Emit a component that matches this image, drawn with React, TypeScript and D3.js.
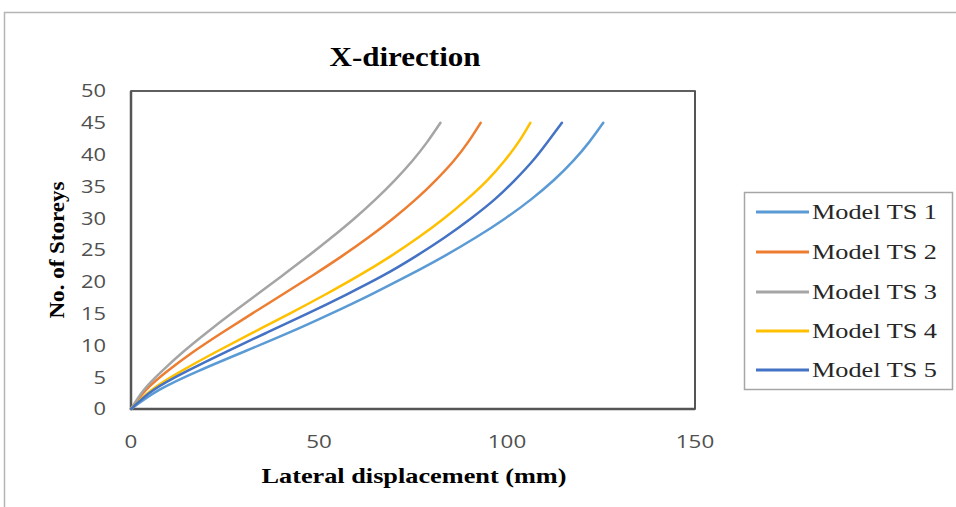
import React from "react";
import * as d3 from "d3";

const storeys = [0, 3, 6, 9, 12, 15, 18, 21, 24, 27, 30, 33, 36, 39, 42, 45];
const ts1 = [0, 7.5, 18, 30, 42, 53.2, 63.8, 73.8, 83.2, 91.8, 99.6, 106.5, 112.5, 117.6, 121.9, 125.6];
const ts2 = [0, 4.0, 9.8, 16.6, 24.2, 32.2, 40.3, 48.3, 56.0, 63.2, 69.8, 75.8, 81.1, 85.8, 89.7, 93.0];
const ts3 = [0, 3.4, 8.3, 13.9, 20.1, 26.7, 33.5, 40.3, 47.0, 53.4, 59.5, 65.1, 70.2, 74.8, 78.8, 82.3];
const ts4 = [0, 5.5, 13.5, 22.7, 32.4, 42.2, 51.7, 60.7, 69.0, 76.5, 83.3, 89.4, 94.8, 99.3, 103.1, 106.2];
const ts5 = [0, 6.0, 15.0, 25.3, 36.1, 46.9, 57.3, 67.1, 75.7, 83.5, 90.5, 96.8, 102.1, 106.8, 110.8, 114.6];

const seriesNames = ["Model TS 1", "Model TS 2", "Model TS 3", "Model TS 4", "Model TS 5"];
const seriesValues = [ts1, ts2, ts3, ts4, ts5];
const colors = ["#5B9BD5", "#ED7D31", "#A5A5A5", "#FFC000", "#4472C4"];
const xTicks = [0, 50, 100, 150];
const yTicks = [0, 5, 10, 15, 20, 25, 30, 35, 40, 45, 50];

const title = "X-direction";
const xTitle = "Lateral displacement (mm)";
const yTitle = "No. of Storeys";

export default function App() {
  const x = d3.scaleLinear().domain([0, 150]).range([131, 695]);
  const y = d3.scaleLinear().domain([0, 50]).range([409, 91]);

  const line = d3
    .line<[number, number]>()
    .x((d) => x(d[0]))
    .y((d) => y(d[1]))
    .curve(d3.curveNatural);

  const serif = "'Liberation Serif', 'Times New Roman', serif";
  const sans = "'Open Sans', 'Liberation Sans', sans-serif";
  const legendY = [212, 252, 292, 331, 370];

  return (
    <svg
      width={956}
      height={507}
      style={{ position: "absolute", left: 0, top: 0, background: "#fff" }}
    >
      <rect x={0} y={0} width={956} height={507} fill="#fff" />
      <rect x={4.5} y={12.5} width={1000} height={600} fill="none" stroke="#b5b5b5" strokeWidth={1.5} />

      <text
        x={405}
        y={66}
        textAnchor="middle"
        fontFamily={serif}
        fontWeight="bold"
        fontSize={28}
        textLength={151}
        lengthAdjust="spacingAndGlyphs"
        fill="#000"
      >
        {title}
      </text>

      {/* plot frame */}
      <rect x={x(0)} y={y(50)} width={x(150) - x(0)} height={y(0) - y(50)} fill="none" stroke="#2b2b2b" strokeWidth={1.5} />
      <line x1={x(0)} x2={x(0)} y1={y(50)} y2={y(0)} stroke="#555" strokeWidth={2.5} />
      <line x1={x(0)} x2={x(150)} y1={y(0)} y2={y(0)} stroke="#555" strokeWidth={2.5} />
      <line x1={x(150)} x2={x(150)} y1={y(50)} y2={y(0)} stroke="#555" strokeWidth={2} />

      {yTicks.map((t) => (
        <text
          key={"y" + t}
          x={106}
          y={y(t)}
          dy="0.36em"
          textAnchor="end"
          fontFamily={sans}
          fontSize={17.5}
          fill="#505050"
          textLength={String(t).length * 12.5}
          lengthAdjust="spacingAndGlyphs"
        >
          {t}
        </text>
      ))}
      {xTicks.map((t) => (
        <text
          key={"x" + t}
          x={x(t)}
          y={442}
          dy="0.36em"
          textAnchor="middle"
          fontFamily={sans}
          fontSize={17.5}
          fill="#505050"
          textLength={String(t).length * 12.8}
          lengthAdjust="spacingAndGlyphs"
        >
          {t}
        </text>
      ))}

      <text
        x={414}
        y={483}
        textAnchor="middle"
        fontFamily={serif}
        fontWeight="bold"
        fontSize={22}
        textLength={305}
        lengthAdjust="spacingAndGlyphs"
        fill="#000"
      >
        {xTitle}
      </text>
      <text
        transform="translate(64,250) rotate(-90)"
        textAnchor="middle"
        fontFamily={serif}
        fontWeight="bold"
        fontSize={21}
        textLength={137}
        lengthAdjust="spacingAndGlyphs"
        fill="#000"
      >
        {yTitle}
      </text>

      {seriesValues.map((vals, i) => (
        <path
          key={seriesNames[i]}
          d={line(vals.map((v, j) => [v, storeys[j]] as [number, number])) || ""}
          fill="none"
          stroke={colors[i]}
          strokeWidth={2.5}
          strokeLinecap="round"
        />
      ))}

      {/* legend */}
      <rect x={744.5} y={192.5} width={208} height={197} fill="#fff" stroke="#a6a6a6" strokeWidth={1.5} />
      {seriesNames.map((n, i) => (
        <g key={"lg" + n}>
          <line x1={756} x2={809} y1={legendY[i]} y2={legendY[i]} stroke={colors[i]} strokeWidth={3} />
          <text
            x={812}
            y={legendY[i]}
            dy="0.33em"
            fontFamily={serif}
            fontSize={22}
            textLength={125}
            lengthAdjust="spacingAndGlyphs"
            fill="#262626"
          >
            {n}
          </text>
        </g>
      ))}
    </svg>
  );
}
